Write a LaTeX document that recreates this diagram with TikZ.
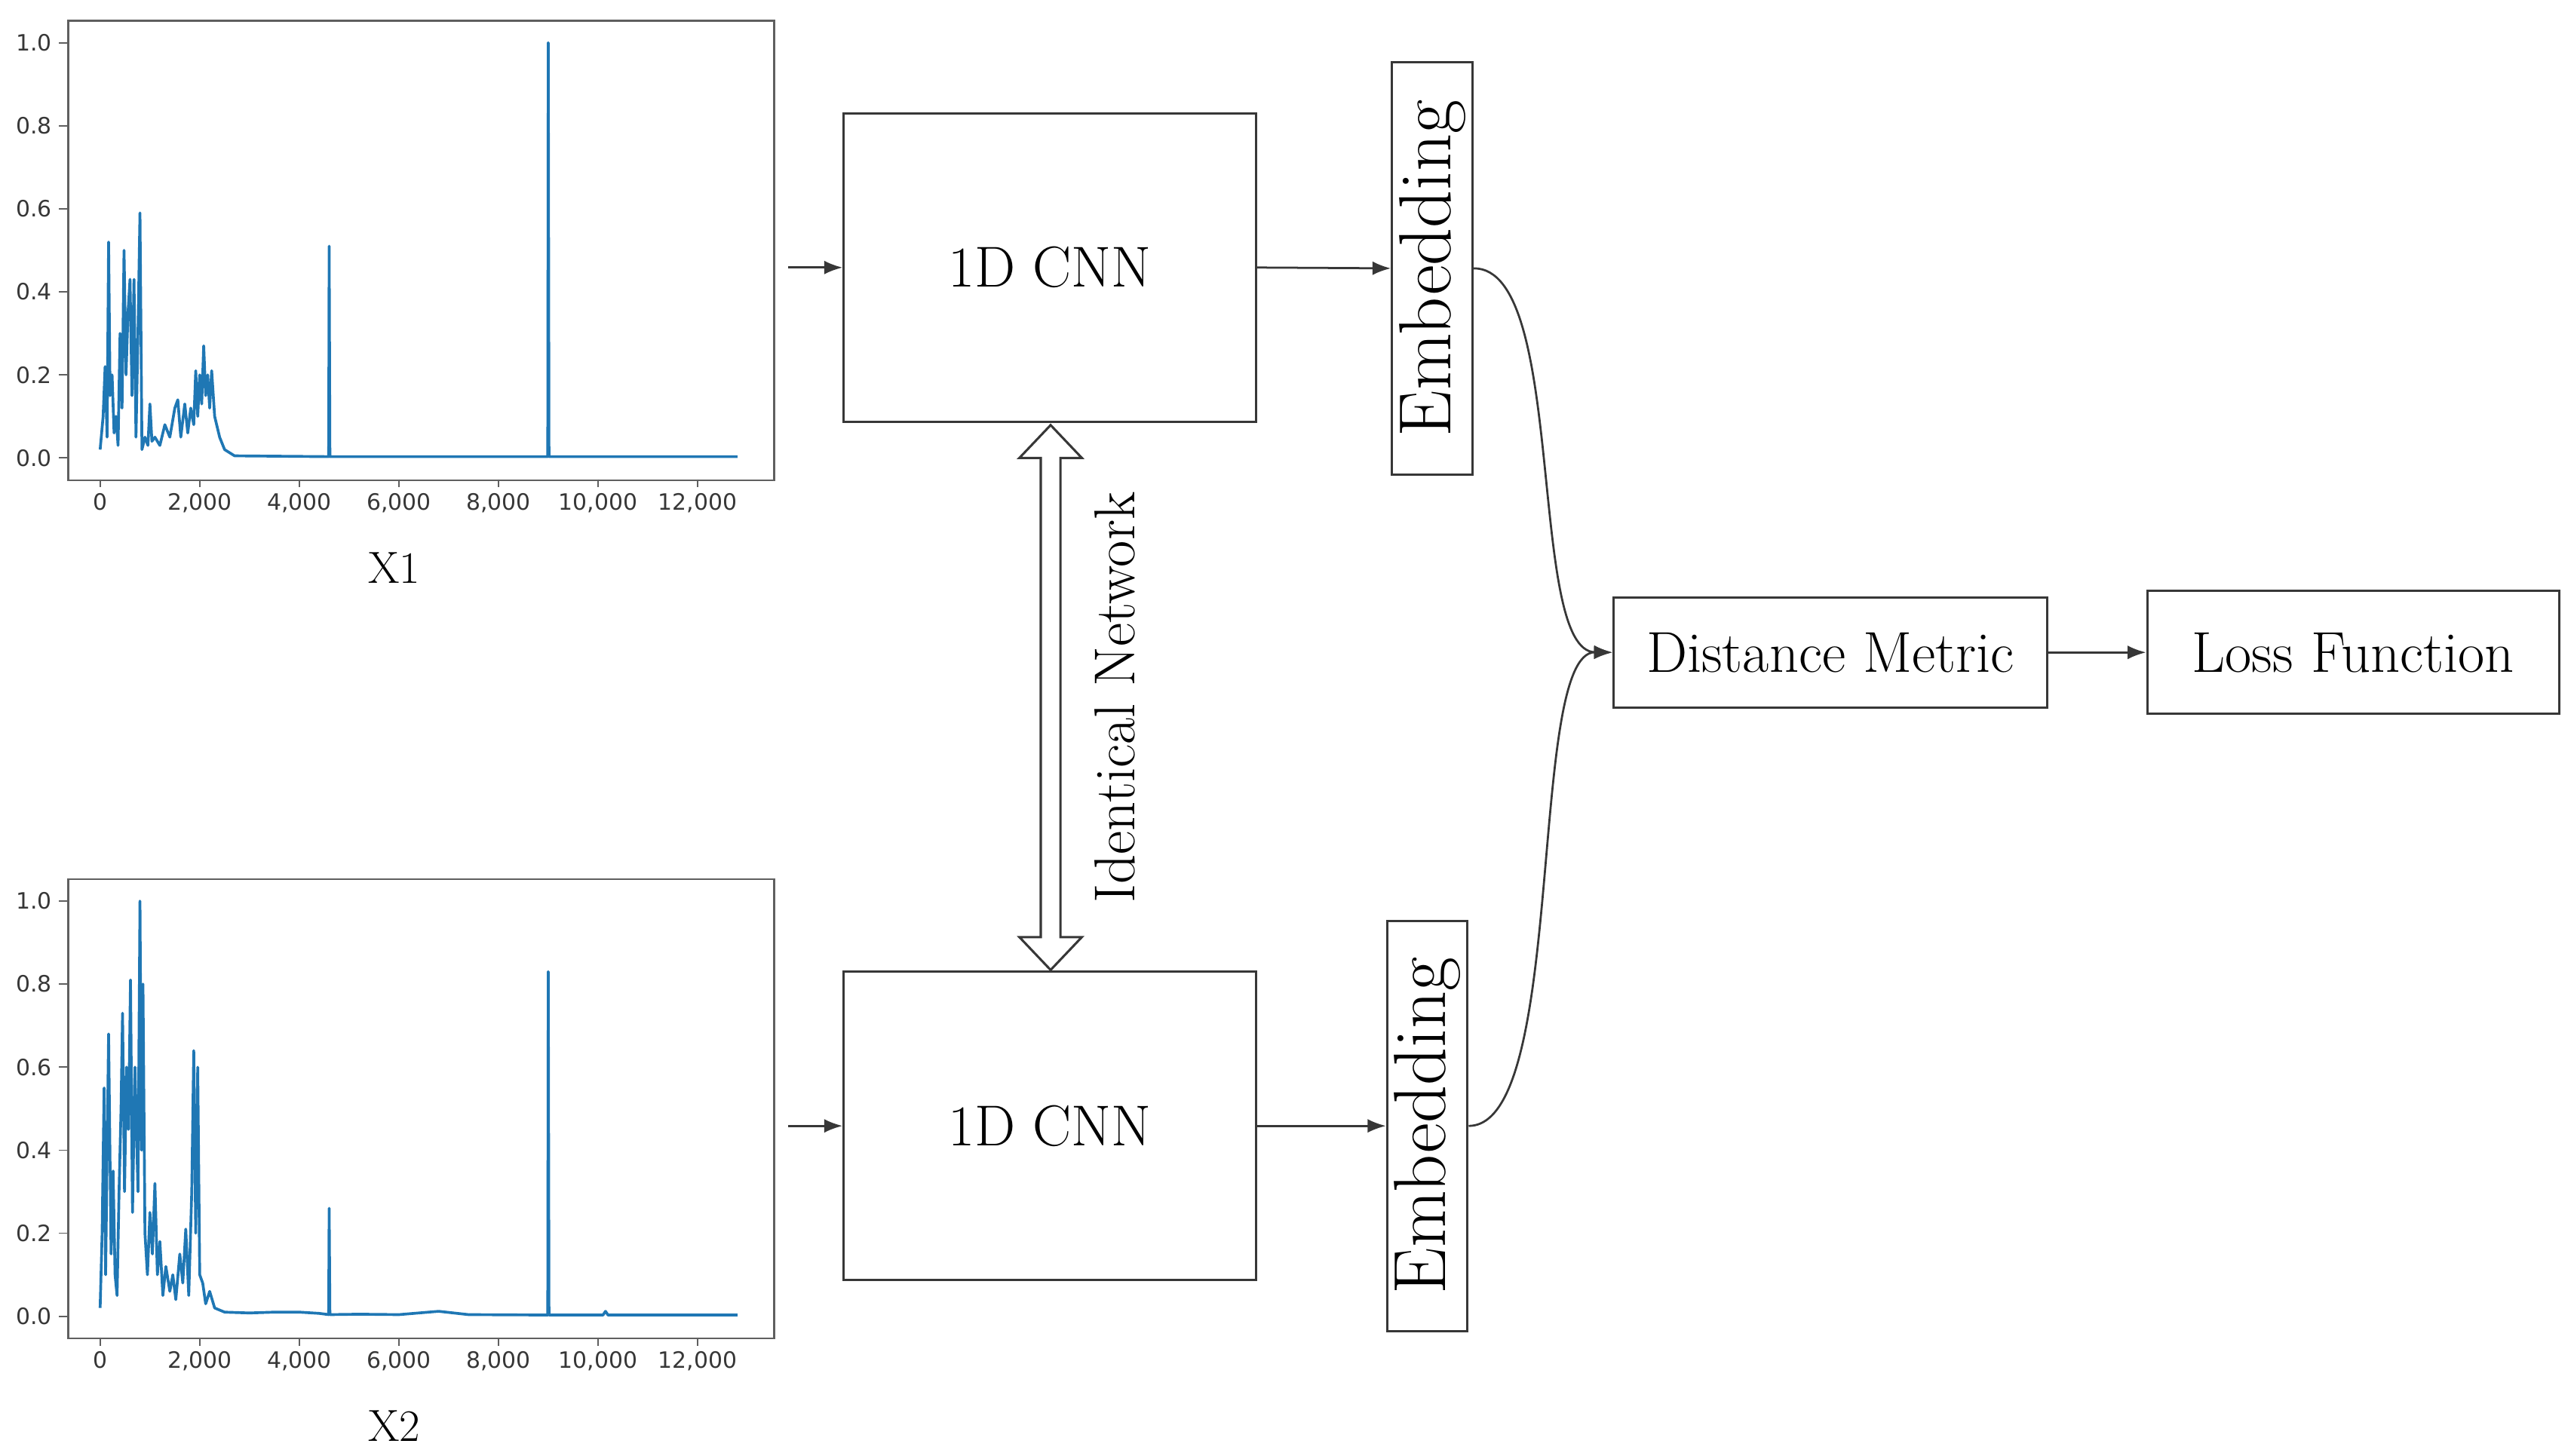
\documentclass[tikz,border=0pt]{standalone}
\usepackage{fontspec}
\newfontfamily\tickfont{DejaVu Sans}
\usetikzlibrary{arrows.meta}
\definecolor{mplblue}{RGB}{31,119,180}
\definecolor{ln}{RGB}{55,55,55}
\begin{document}
\begin{tikzpicture}[x=0.05cm,y=-0.05cm,
  box/.style={draw=ln,line width=2pt,inner sep=0pt},
  big/.style={font=\fontsize{50}{58}\selectfont},
  emb/.style={font=\fontsize{64}{70}\selectfont},
  conn/.style={draw=ln,line width=1.8pt,-{Latex[length=16pt,width=12pt]}},
  sig/.style={draw=mplblue,line width=2.4pt,line join=round},
  tick/.style={text=ln,font=\tickfont\fontsize{19.5}{22}\selectfont}]
\useasboundingbox (0,0) rectangle (1568,887);
% ---------- plots
\foreach \oy/\nm/\lab in {0/p1/X1,523/p2/X2}{
  \begin{scope}[yshift=-\oy*0.05cm]
  \node[box,draw=ln!80,line width=1.6pt,minimum width=430*0.05cm,minimum height=280*0.05cm,anchor=north west] (\nm) at (41,12) {};
  \foreach \v/\t in {0/0.0,0.2/0.2,0.4/0.4,0.6/0.6,0.8/0.8,1.0/1.0}{
    \draw[ln!80,line width=1.2pt] (41,279-253*\v) -- (36,279-253*\v);
    \node[tick,anchor=east] (yt\nm\t) at (34,279-253*\v) {\t};}
  \foreach \v/\t in {0/0,2/{2,000},4/{4,000},6/{6,000},8/{8,000},10/{10,000},12/{12,000}}{
    \draw[ln!80,line width=1.2pt] (61+30.33*\v,292) -- (61+30.33*\v,297);
    \node[tick,anchor=north] (xt\nm\v) at (61+30.33*\v,298) {\t};}
  \node[font=\fontsize{39}{44}\selectfont] (lab\nm) at (240,346) {\lab};
  \end{scope}}
% signal 1 (x in thousands)
\begin{scope}[shift={(61,279)},xscale=30.33,yscale=-253]
\draw[sig] (0,0.02) -- (.060,0.1) -- (.100,0.22) -- (.140,0.05) -- (.170,0.52) -- (.200,0.15) -- (.240,0.2) -- (.280,0.06) -- (.320,0.1) -- (.360,0.03) -- (.400,0.3) -- (.440,0.12) -- (.480,0.5) -- (.520,0.2) -- (.560,0.35) -- (.600,0.43) -- (.640,0.15) -- (.680,0.43) -- (.720,0.05) -- (.760,0.3) -- (.800,0.59) -- (.840,0.02) -- (.900,0.05) -- (.960,0.03) -- (1.000,0.13) -- (1.040,0.04) -- (1.100,0.05) -- (1.200,0.03) -- (1.300,0.08) -- (1.400,0.05) -- (1.500,0.12) -- (1.560,0.14) -- (1.620,0.05) -- (1.700,0.13) -- (1.760,0.06) -- (1.820,0.12) -- (1.880,0.08) -- (1.920,0.21) -- (1.960,0.1) -- (2.000,0.2) -- (2.040,0.13) -- (2.080,0.27) -- (2.120,0.15) -- (2.160,0.2) -- (2.200,0.12) -- (2.240,0.21) -- (2.300,0.1) -- (2.400,0.05) -- (2.500,0.02) -- (2.700,0.005) -- (4.590,0.003) -- (4.600,0.51) -- (4.615,0.003) -- (8.990,0.003) -- (9.000,1.0) -- (9.015,0.003) -- (12.800,0.003);
\end{scope}
% signal 2
\begin{scope}[shift={(61,802)},xscale=30.33,yscale=-253]
\draw[sig] (0,0.02) -- (.040,0.2) -- (.080,0.55) -- (.110,0.1) -- (.170,0.68) -- (.220,0.15) -- (.260,0.35) -- (.300,0.1) -- (.340,0.05) -- (.380,0.3) -- (.420,0.5) -- (.450,0.73) -- (.490,0.3) -- (.530,0.6) -- (.570,0.45) -- (.610,0.81) -- (.650,0.25) -- (.700,0.6) -- (.760,0.3) -- (.800,1.0) -- (.830,0.4) -- (.860,0.8) -- (.900,0.2) -- (.950,0.1) -- (1.000,0.25) -- (1.050,0.15) -- (1.100,0.32) -- (1.150,0.1) -- (1.200,0.18) -- (1.260,0.05) -- (1.320,0.12) -- (1.400,0.06) -- (1.460,0.1) -- (1.520,0.04) -- (1.600,0.15) -- (1.660,0.08) -- (1.720,0.21) -- (1.780,0.05) -- (1.840,0.3) -- (1.880,0.64) -- (1.920,0.2) -- (1.960,0.6) -- (2.000,0.1) -- (2.060,0.08) -- (2.120,0.03) -- (2.200,0.06) -- (2.300,0.02) -- (2.500,0.01) -- (3.000,0.008) -- (3.500,0.01) -- (4.000,0.01) -- (4.400,0.007) -- (4.590,0.004) -- (4.600,0.26) -- (4.615,0.004) -- (5.200,0.005) -- (6.000,0.004) -- (6.800,0.012) -- (7.400,0.004) -- (8.990,0.003) -- (9.000,0.83) -- (9.015,0.003) -- (10.100,0.003) -- (10.150,0.012) -- (10.200,0.003) -- (12.800,0.003);
\end{scope}
% ---------- network
\node[box,minimum width=251*0.05cm,minimum height=188*0.05cm,big] (cnn1) at (639.5,163) {1D CNN};
\node[box,minimum width=251*0.05cm,minimum height=188*0.05cm,big] (cnn2) at (639.5,686) {1D CNN};
\node[box,minimum width=251*0.05cm,minimum height=49*0.05cm,emb,rotate=90] (emb1) at (872.5,163.5) {Embedding};
\node[box,minimum width=250*0.05cm,minimum height=49*0.05cm,emb,rotate=90] (emb2) at (869.5,686) {Embedding};
\node[box,minimum width=264*0.05cm,minimum height=67*0.05cm,big] (dist) at (1115,397.5) {Distance Metric};
\node[box,minimum width=251*0.05cm,minimum height=75*0.05cm,big] (loss) at (1433.5,397.5) {Loss Function};
\coordinate (in1) at (480,163);
\coordinate (in2) at (480,686);
\draw[conn] (in1) -- (cnn1.west);
\draw[conn] (in2) -- (cnn2.west);
\draw[conn] (cnn1.east) -- (emb1.north);
\draw[conn] (cnn2.east) -- (emb2.north);
\draw[conn] (dist.east) -- (loss.west);
\draw[conn] (emb1.south) .. controls (955,163) and (930,397) .. (dist.west);
\draw[conn] (emb2.south) .. controls (955,686) and (930,397) .. (dist.west);
% identical network double arrow
\draw[ln,line width=2pt,fill=white] (640,259) -- (659,279) -- (646,279) -- (646,571) -- (659,571) -- (640,591) -- (621,571) -- (634,571) -- (634,279) -- (621,279) -- cycle;
\node[font=\fontsize{50}{56}\selectfont,rotate=90] (ident) at (679,425) {Identical Network};
\end{tikzpicture}
\end{document}
